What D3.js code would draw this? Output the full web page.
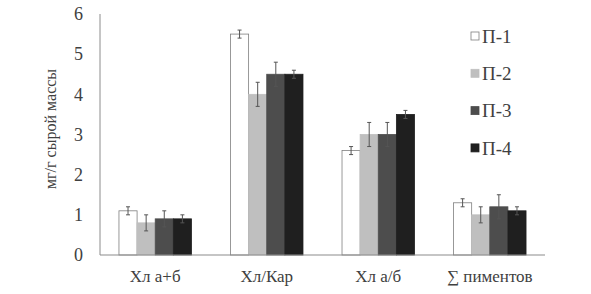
<!doctype HTML>
<html>
<head>
    <script src="https://d3js.org/d3.v7.min.js"></script>
    <style>
        body { margin: 0; background: #fff; }
    </style>
</head>
<body>
<script>
    var categories = ["Хл а+б", "Хл/Кар", "Хл а/б", "∑ пиментов"];
    var seriesNames = ["П-1", "П-2", "П-3", "П-4"];
    var values = [
        [1.1, 5.5, 2.6, 1.3],
        [0.8, 4.0, 3.0, 1.0],
        [0.9, 4.5, 3.0, 1.2],
        [0.9, 4.5, 3.5, 1.1]
    ];
    var errors = [
        [0.1, 0.1, 0.1, 0.1],
        [0.2, 0.3, 0.3, 0.2],
        [0.2, 0.3, 0.3, 0.3],
        [0.1, 0.1, 0.1, 0.1]
    ];
    var yTicks = [0, 1, 2, 3, 4, 5, 6];
    var colors = ["#ffffff", "#bfbfbf", "#4d4d4d", "#1f1f1f"];

    var svg = d3.select("body").append("svg")
        .attr("width", 591)
        .attr("height", 294);

    var plotLeft = 100, plotRight = 545, plotTop = 14, plotBottom = 255;
    var textColor = "#404040";
    var serif = "Liberation Serif";

    var x0 = d3.scaleBand().domain(categories).range([plotLeft, plotRight]).paddingInner(0.35).paddingOuter(0.17);
    var x1 = d3.scaleBand().domain(seriesNames).range([0, x0.bandwidth()]);
    var y = d3.scaleLinear().domain([0, 6]).range([plotBottom, plotTop]);

    // Y tick labels
    svg.append("g").selectAll("text")
        .data(yTicks)
        .enter().append("text")
        .attr("x", 83)
        .attr("y", function(d) { return y(d); })
        .attr("dy", "0.35em")
        .attr("text-anchor", "end")
        .attr("font-family", serif)
        .attr("font-size", "18px")
        .attr("fill", textColor)
        .text(function(d) { return d; });

    // Y axis title
    svg.append("text")
        .attr("transform", "translate(56, 129) rotate(-90)")
        .attr("text-anchor", "middle")
        .attr("font-family", serif)
        .attr("font-size", "16px")
        .attr("fill", textColor)
        .text("мг/г сырой массы");

    // Bars
    var groups = svg.selectAll(".grp")
        .data(categories)
        .enter().append("g")
        .attr("class", "grp")
        .attr("transform", function(d) { return "translate(" + x0(d) + ",0)"; });

    seriesNames.forEach(function(s, si) {
        groups.append("rect")
            .attr("x", x1(s))
            .attr("y", function(d, ci) { return y(values[si][ci]); })
            .attr("width", x1.bandwidth())
            .attr("height", function(d, ci) { return plotBottom - y(values[si][ci]); })
            .attr("fill", colors[si])
            .attr("stroke", si === 0 ? "#7f7f7f" : colors[si])
            .attr("stroke-width", 0.8);
    });

    // Error bars
    seriesNames.forEach(function(s, si) {
        var cx = x1(s) + x1.bandwidth() / 2;
        groups.append("line")
            .attr("x1", cx).attr("x2", cx)
            .attr("y1", function(d, ci) { return y(values[si][ci] - errors[si][ci]); })
            .attr("y2", function(d, ci) { return y(values[si][ci] + errors[si][ci]); })
            .attr("stroke", "#555").attr("stroke-width", 1);
        [-1, 1].forEach(function(sg) {
            groups.append("line")
                .attr("x1", cx - 2).attr("x2", cx + 2)
                .attr("y1", function(d, ci) { return y(values[si][ci] + sg * errors[si][ci]); })
                .attr("y2", function(d, ci) { return y(values[si][ci] + sg * errors[si][ci]); })
                .attr("stroke", "#555").attr("stroke-width", 1);
        });
    });

    // Axes lines
    svg.append("line")
        .attr("x1", plotLeft).attr("x2", plotLeft)
        .attr("y1", plotTop).attr("y2", plotBottom)
        .attr("stroke", "#8c8c8c").attr("stroke-width", 1);
    svg.append("line")
        .attr("x1", plotLeft).attr("x2", plotRight)
        .attr("y1", plotBottom).attr("y2", plotBottom)
        .attr("stroke", "#8c8c8c").attr("stroke-width", 1.2);

    // X labels
    svg.append("g").selectAll("text")
        .data(categories)
        .enter().append("text")
        .attr("x", function(d) { return x0(d) + x0.bandwidth() / 2; })
        .attr("y", 282)
        .attr("text-anchor", "middle")
        .attr("font-family", serif)
        .attr("font-size", "17px")
        .attr("fill", textColor)
        .text(function(d) { return d; });

    // Legend
    var legend = svg.append("g").selectAll("g")
        .data(seriesNames)
        .enter().append("g")
        .attr("transform", function(d, i) { return "translate(471," + (32 + i * 37.3) + ")"; });
    legend.append("rect")
        .attr("width", 8).attr("height", 8)
        .attr("fill", function(d, i) { return colors[i]; })
        .attr("stroke", function(d, i) { return i === 0 ? "#7f7f7f" : colors[i]; })
        .attr("stroke-width", 0.8);
    legend.append("text")
        .attr("x", 11)
        .attr("y", 4)
        .attr("dy", "0.35em")
        .attr("font-family", serif)
        .attr("font-size", "19px")
        .attr("fill", textColor)
        .text(function(d) { return d; });
</script>
</body>
</html>
